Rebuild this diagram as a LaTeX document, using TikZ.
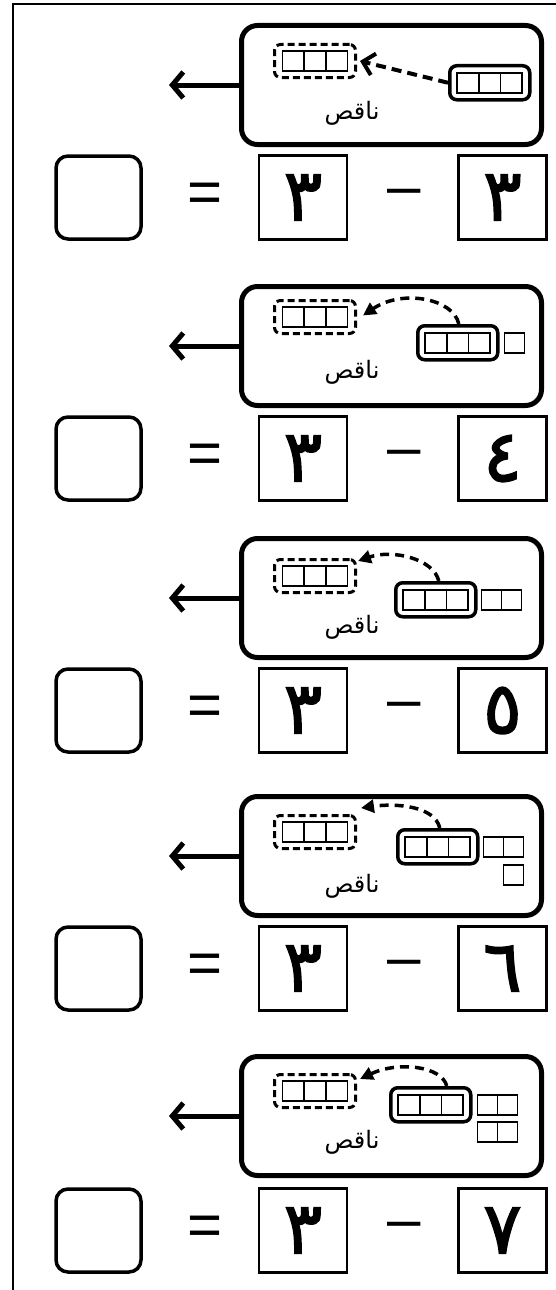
\documentclass[tikz,border=0pt]{standalone}
\usepackage{fontspec}
\setmainfont{Liberation Sans}
\newfontfamily\arabicfont[Script=Arabic]{DejaVu Sans}
\newfontfamily\digitfont[Script=Arabic,FakeBold=2]{DejaVu Sans}
\TeXXeTstate=1
\usetikzlibrary{arrows.meta,calc}
\tikzset{
  frameline/.style={line width=2.5pt},
  panel/.style={draw,line width=5pt,rounded corners=16pt,minimum width=300pt,minimum height=119pt,anchor=north west,inner sep=0pt},
  dbox/.style={draw,line width=3pt,dash pattern=on 7pt off 4pt,rounded corners=6pt,minimum width=81pt,minimum height=33pt,anchor=north west,inner sep=0pt},
  sbox/.style={draw,line width=3.5pt,rounded corners=7pt,minimum width=80pt,minimum height=34pt,anchor=north west,inner sep=0pt},
  cellline/.style={line width=1.6pt},
  triple/.pic={\draw[cellline] (-32.5,-10) rectangle (32.5,10) (-10.83,-10) -- (-10.83,10) (10.83,-10) -- (10.83,10);},
  sq/.pic={\draw[cellline] (0,-10) rectangle (20,10);},
  leftarrow/.style={line width=5pt,-{Straight Barb[length=11pt,width=26pt,line width=5pt]}},
  straightdash/.style={line width=4pt,dash pattern=on 10pt off 6pt,-{Straight Barb[length=11pt,width=22pt,line width=4pt]}},
  curvedash/.style={line width=3.5pt,dash pattern=on 9pt off 6pt,-{Triangle[length=13pt,width=13pt]}},
  word/.style={font=\arabicfont\fontsize{24}{28}\selectfont},
  ansbox/.style={draw,line width=3.5pt,rounded corners=12pt,minimum width=85pt,minimum height=83pt,inner sep=0pt},
  numbox/.style={draw,line width=2.4pt,minimum width=88pt,minimum height=84pt,inner sep=0pt,font=\digitfont\fontsize{72}{84}\selectfont},
  sym/.style={inner sep=0pt,font=\fontsize{60}{70}\selectfont}
}
\begin{document}
\begin{tikzpicture}[x=1pt,y=-1pt]
\useasboundingbox (0,0) rectangle (556,1290);
\draw[frameline] (13,1290) -- (13,4) -- (556,4);

% ---------- block 1 ----------
\node[panel] (p1) at (239,23) {};
\coordinate (a1) at ($(p1.west)+(-70,0)$);
\draw[leftarrow] (p1.west) -- (a1);
\node[dbox] (d1) at (273,43) {};
\pic at (d1.center) {triple};
\node[sbox] (s1) at (448,64) {};
\pic at (s1.center) {triple};
\draw[straightdash] (s1.west) -- ($(d1.east)+(3,0)$);
\node[word] (w1) at (352,113) {\beginR ناقص\endR};
\node[ansbox] (q1) at (98.5,197.5) {};
\node[sym] (e1) at (205,197.5) {=};
\node[numbox] (m1) at (303,197.5) {\beginR ٣\endR};
\node[sym] (n1) at (404,197.5) {–};
\node[numbox] (r1) at (502.5,197.5) {\beginR ٣\endR};

% ---------- block 2 ----------
\node[panel] (p2) at (239,284) {};
\coordinate (a2) at ($(p2.west)+(-70,0)$);
\draw[leftarrow] (p2.west) -- (a2);
\node[dbox] (d2) at (273,299) {};
\pic at (d2.center) {triple};
\node[sbox] (s2) at (416,324) {};
\pic at (s2.center) {triple};
\pic at ($(s2.east)+(5,0)$) {sq};
\coordinate (b2) at ($(s2.north)+(1,0)$);
\coordinate (t2) at ($(d2.east)+(6,-1.5)$);
\draw[curvedash] (b2) .. controls ($(b2)+(-5,-25)$) and ($(t2)+(40,-27)$) .. (t2);
\node[word] (w2) at (352,372) {\beginR ناقص\endR};
\node[ansbox] (q2) at (98.5,458.5) {};
\node[sym] (e2) at (205,458.5) {=};
\node[numbox] (m2) at (303,458.5) {\beginR ٣\endR};
\node[sym] (n2) at (404,458.5) {–};
\node[numbox] (r2) at (502.5,458.5) {\beginR ٤\endR};

% ---------- block 3 ----------
\node[panel] (p3) at (239,536) {};
\coordinate (a3) at ($(p3.west)+(-70,0)$);
\draw[leftarrow] (p3.west) -- (a3);
\node[dbox] (d3) at (273,558) {};
\pic at (d3.center) {triple};
\node[sbox] (s3) at (394,581) {};
\pic at (s3.center) {triple};
\pic at ($(s3.east)+(4,0)$) {sq};
\pic at ($(s3.east)+(24,0)$) {sq};
\coordinate (b3) at ($(s3.north)+(3,0)$);
\coordinate (t3) at ($(d3.north east)+(1,3)$);
\draw[curvedash] (b3) .. controls ($(b3)+(-5,-22)$) and ($(t3)+(35,-12)$) .. (t3);
\node[word] (w3) at (352,627) {\beginR ناقص\endR};
\node[ansbox] (q3) at (98.5,710.5) {};
\node[sym] (e3) at (205,710.5) {=};
\node[numbox] (m3) at (303,710.5) {\beginR ٣\endR};
\node[sym] (n3) at (404,710.5) {–};
\node[numbox] (r3) at (502.5,710.5) {\beginR ٥\endR};

% ---------- block 4 ----------
\node[panel] (p4) at (239,794) {};
\coordinate (a4) at ($(p4.west)+(-70,0)$);
\draw[leftarrow] (p4.west) -- (a4);
\node[dbox] (d4) at (273,814) {};
\pic at (d4.center) {triple};
\node[sbox] (s4) at (396,828) {};
\pic at (s4.center) {triple};
\pic at ($(s4.east)+(4,0)$) {sq};
\pic at ($(s4.east)+(24,0)$) {sq};
\pic at ($(s4.east)+(24,28)$) {sq};
\coordinate (b4) at ($(s4.north)+(2,0)$);
\coordinate (t4) at ($(d4.north east)+(4,-6)$);
\draw[curvedash] (b4) .. controls ($(b4)+(-5,-22)$) and ($(t4)+(35,-5)$) .. (t4);
\node[word] (w4) at (352,886) {\beginR ناقص\endR};
\node[ansbox] (q4) at (98.5,968.5) {};
\node[sym] (e4) at (205,968.5) {=};
\node[numbox] (m4) at (303,968.5) {\beginR ٣\endR};
\node[sym] (n4) at (404,968.5) {–};
\node[numbox] (r4) at (502.5,968.5) {\beginR ٦\endR};

% ---------- block 5 ----------
\node[panel] (p5) at (239,1054) {};
\coordinate (a5) at ($(p5.west)+(-70,0)$);
\draw[leftarrow] (p5.west) -- (a5);
\node[dbox] (d5) at (273,1073) {};
\pic at (d5.center) {triple};
\node[sbox] (s5) at (389,1086) {};
\pic at (s5.center) {triple};
\pic at ($(s5.east)+(5,0)$) {sq};
\pic at ($(s5.east)+(25,0)$) {sq};
\pic at ($(s5.east)+(5,27)$) {sq};
\pic at ($(s5.east)+(25,27)$) {sq};
\coordinate (b5) at ($(s5.north)+(16,0)$);
\coordinate (t5) at ($(d5.east)+(3,-12)$);
\draw[curvedash] (b5) .. controls ($(b5)+(-5,-20)$) and ($(t5)+(38,-18)$) .. (t5);
\node[word] (w5) at (352,1142) {\beginR ناقص\endR};
\node[ansbox] (q5) at (98.5,1230.5) {};
\node[sym] (e5) at (205,1230.5) {=};
\node[numbox] (m5) at (303,1230.5) {\beginR ٣\endR};
\node[sym] (n5) at (404,1230.5) {–};
\node[numbox] (r5) at (502.5,1230.5) {\beginR ٧\endR};
\end{tikzpicture}
\end{document}
